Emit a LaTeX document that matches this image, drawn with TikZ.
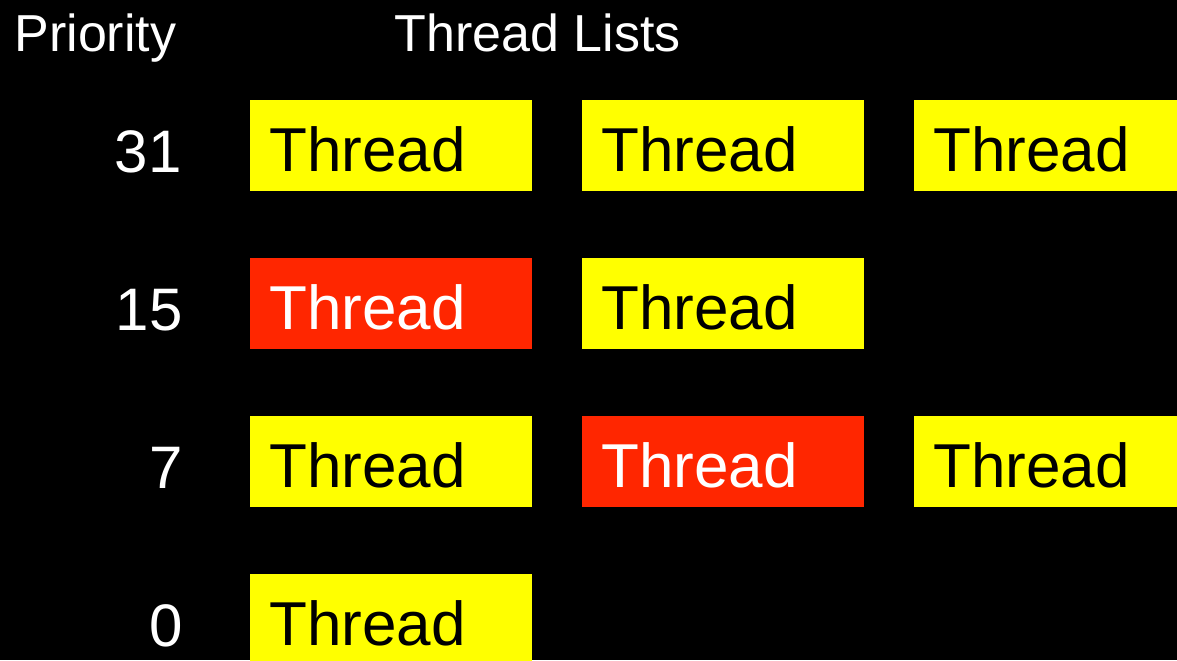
\documentclass[tikz,border=0pt]{standalone}
\usepackage{fontspec}
\setmainfont{Liberation Sans}
\definecolor{threadyellow}{RGB}{255,255,0}
\definecolor{threadred}{RGB}{255,38,0}
\tikzset{every picture/.style={line width=0.75pt},
	thread/.style={anchor=north west,draw=none,fill=threadyellow,text=black,
		minimum width=211.5pt,minimum height=68.25pt,inner ysep=0pt,inner xsep=15pt,
		text width=181.5pt,align=left,text height=39.75pt,text depth=0pt,
		font=\fontsize{46.5}{50}\selectfont},
	running/.style={thread,fill=threadred,text=white},
	prio/.style={anchor=base east,text=white,inner sep=0pt,font=\fontsize{45}{50}\selectfont},
	heading/.style={anchor=base west,text=white,inner sep=0pt,font=\fontsize{39}{44}\selectfont}}

\begin{document}
\begin{tikzpicture}[x=0.75pt,y=0.75pt,yscale=-1,xscale=1]
	%background
	\fill[black] (0,0) rectangle (1177,660);
	\useasboundingbox (0,0) rectangle (1177,660);

	% Headings
	\node[heading] (priority) at (14,52) {Priority};
	\node[heading] (lists) at (394,52) {Thread Lists};

	% Priority levels
	\node[prio] (p31) at (182,172) {31};
	\node[prio] (p15) at (183,330) {15};
	\node[prio] (p7) at (183,488) {7};
	\node[prio] (p0) at (183,646) {0};

	% Level 31
	\node[thread] (t31a) at (249,99) {Thread};
	\node[thread] (t31b) at (581,99) {Thread};
	\node[thread] (t31c) at (913,99) {Thread};
	% Level 15
	\node[running] (t15a) at (249,257) {Thread};
	\node[thread] (t15b) at (581,257) {Thread};
	% Level 7
	\node[thread] (t7a) at (249,415) {Thread};
	\node[running] (t7b) at (581,415) {Thread};
	\node[thread] (t7c) at (913,415) {Thread};
	% Level 0
	\node[thread] (t0a) at (249,573) {Thread};

\end{tikzpicture}
\end{document}
